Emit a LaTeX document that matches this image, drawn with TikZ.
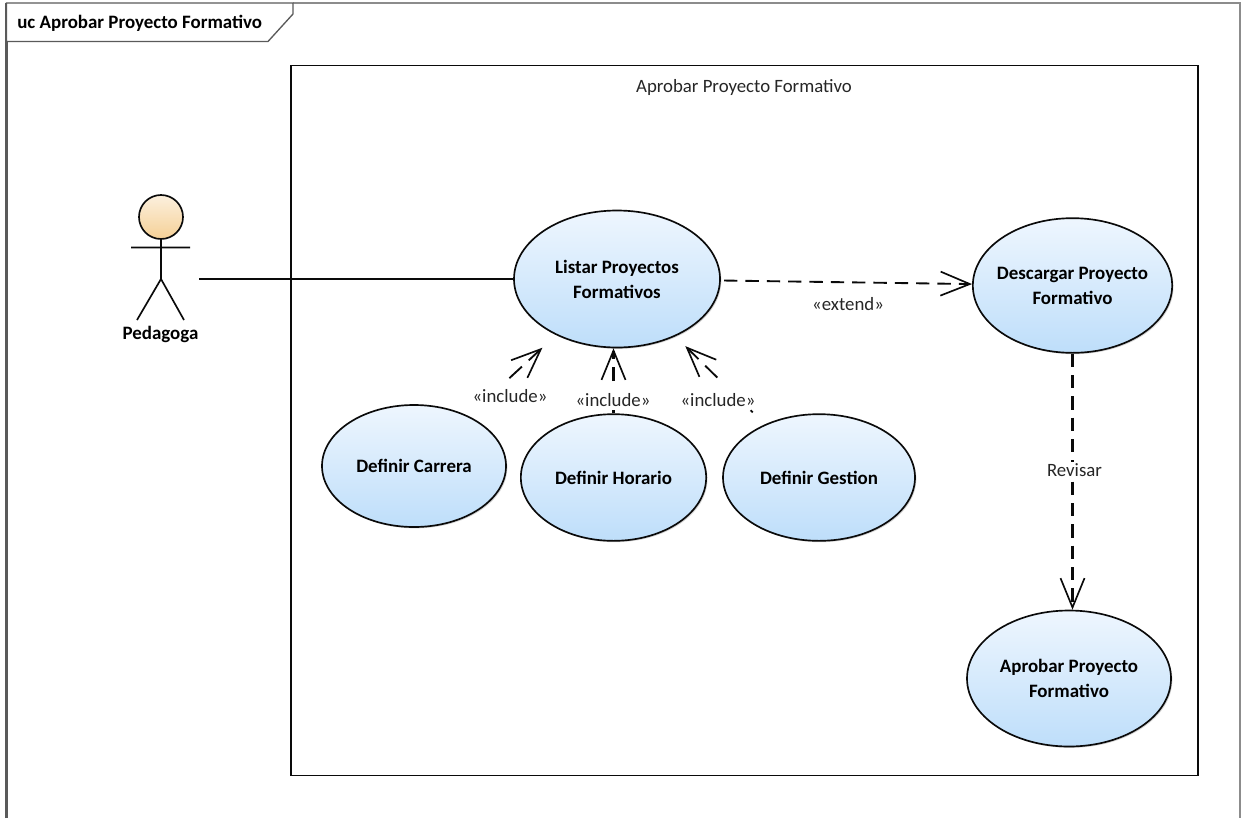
\documentclass[tikz,border=0pt]{standalone}
\usepackage{fontspec}
\setmainfont{Carlito}
\usetikzlibrary{shapes.geometric,arrows.meta,calc,shadows}
\definecolor{ucline}{RGB}{10,10,10}
\definecolor{ucframe}{RGB}{90,90,90}
\definecolor{ucframelight}{RGB}{140,140,140}
\definecolor{uctop}{RGB}{238,246,254}
\definecolor{ucbot}{RGB}{190,222,250}
\definecolor{actortop}{RGB}{252,240,222}
\definecolor{actorbot}{RGB}{245,208,150}
\tikzset{
 usecase/.style={ellipse,draw=ucline,line width=1.25pt,top color=uctop,bottom color=ucbot,
   inner sep=-15pt,align=center,font=\bfseries\fontsize{14.2}{18.75}\selectfont,
   drop shadow={shadow xshift=1pt,shadow yshift=-1pt,fill=black!35,opacity=.5}},
 dep/.style={dash pattern=on 10pt off 6pt,line width=1.4pt,draw=ucline,
   -{Straight Barb[length=22pt,width=18pt,line width=1.25pt]}},
 vdep/.style={dep,line width=1.6pt},
 lbl/.style={fill=white,inner xsep=1pt,inner ysep=1pt,font=\fontsize{14.1}{16}\selectfont,text=black!85},
 stick/.style={draw=ucline,line width=1.25pt},
}
\begin{document}
\begin{tikzpicture}[x=0.75pt,y=-0.75pt]
\useasboundingbox (0,0) rectangle (1241,818);
\fill[white] (0,0) rectangle (1241,818);
% frame
\draw[ucframelight,line width=1pt] (293,3) -- (1240,3) -- (1240,818);
\draw[ucframe,line width=1.6pt] (6.5,818) -- (6.5,3);
\draw[ucframe,line width=1pt,fill=white] (6.5,3) -- (293,3) -- (293,14) -- (268,41.5) -- (6.5,41.5) -- cycle;
\node[anchor=west,inner sep=0pt,font=\bfseries\fontsize{14.2}{16}\selectfont] (frametitle) at (17,23) {uc Aprobar Proyecto Formativo};
% system boundary
\node[draw=ucline,line width=1.45pt,fill=white,minimum width=680.25pt,minimum height=532.5pt,inner sep=0pt] (system) at (744.5,420.5) {};
\node[font=\fontsize{14.1}{16}\selectfont,text=black!85,inner sep=0pt] (systitle) at (744,87) {Aprobar Proyecto Formativo};
% use cases
\node[usecase,minimum width=154.5pt,minimum height=102.75pt] (listar) at (617,279) {Listar Proyectos\\Formativos};
\node[usecase,minimum width=149.5pt,minimum height=101pt] (descargar) at (1072.5,285.5) {Descargar Proyecto\\Formativo};
\node[usecase,minimum width=153pt,minimum height=102pt] (aprobar) at (1069,678.5) {Aprobar Proyecto\\Formativo};
\node[usecase,minimum width=138pt,minimum height=91.5pt] (carrera) at (414,466) {Definir Carrera};
\node[usecase,minimum width=139pt,minimum height=95pt] (horario) at (613.5,477.5) {Definir Horario};
\node[usecase,minimum width=144pt,minimum height=95pt] (gestion) at (819,477.5) {Definir Gestion};
% actor
\shade[top color=actortop,bottom color=actorbot,draw=ucline,line width=1.25pt] (161,217) circle[radius=22];
\draw[stick,line width=1.6pt] (161,239) -- (161,279);
\draw[stick] (131,247.5) -- (190,247.5) (137,320) -- (161,279) -- (184,320);
\node[inner sep=0pt,minimum width=57pt,minimum height=1pt] (actor) at (161,279) {};
\node[inner sep=0pt,font=\bfseries\fontsize{14.2}{16}\selectfont] (actorname) at (160.5,334) {Pedagoga};
% connectors
\draw[ucline,line width=1.25pt] (actor) -- (listar);
\draw[dep,shorten <=2.5pt] (listar) -- (descargar);
\draw[dep,shorten <=41.8pt,shorten >=13.9pt,dash pattern=on 12.75pt off 7pt on 40pt off 1pt] (carrera) -- (listar);
\draw[vdep,dash pattern=on 2.25pt off 22pt on 10.5pt off 6pt on 40pt off 1pt] (horario.north) -- (horario.north |- listar.south);
\draw[dep,shorten <=12.75pt,shorten >=10.5pt,dash pattern=on 2.25pt off 35pt on 12.75pt off 7pt on 40pt off 1pt] (gestion) -- (listar);
\draw[vdep] (descargar.south) -- (descargar.south |- aprobar.north);
% labels
\node[lbl] (le) at (848,304) {«extend»};
\node[lbl] (l1) at (510,396) {«include»};
\node[lbl] (l2) at (613,400) {«include»};
\node[lbl] (l3) at (718,400) {«include»};
\node[lbl] (l4) at (1074.5,470) {Revisar};
\end{tikzpicture}
\end{document}
